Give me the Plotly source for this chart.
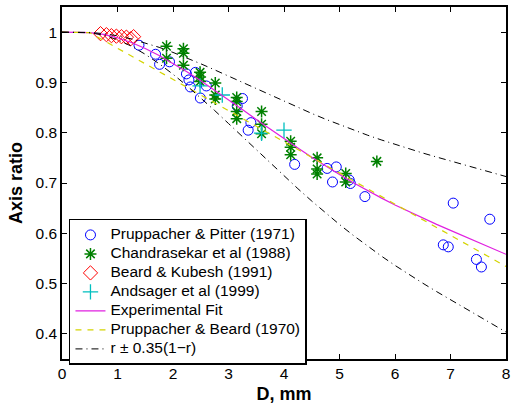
import plotly.graph_objects as go

# ---- data ----
pp_D = [1.387, 1.686, 1.758, 1.937, 2.242, 2.404, 2.287, 2.314, 2.601, 2.493,
        3.252, 3.157, 3.403, 3.354, 4.192, 4.777, 4.942, 4.874, 5.175, 5.196,
        5.458, 7.049, 7.708, 6.870, 6.960, 7.467, 7.557]
pp_r = [0.974, 0.956, 0.936, 0.941, 0.917, 0.920, 0.905, 0.891, 0.893, 0.869,
        0.868, 0.853, 0.820, 0.805, 0.737, 0.729, 0.732, 0.702, 0.706, 0.699,
        0.673, 0.660, 0.628, 0.577, 0.573, 0.548, 0.533]

ch_D = [1.883, 1.883, 2.188, 2.188, 2.188, 2.488, 2.488, 2.488, 2.762, 2.762, 2.762,
        3.148, 3.148, 3.148, 3.148, 3.596, 3.596, 3.596, 4.120, 4.120, 4.120,
        4.597, 4.597, 4.597, 5.112, 5.112, 5.673]
ch_r = [0.972, 0.948, 0.967, 0.958, 0.934, 0.920, 0.911, 0.902, 0.899, 0.875, 0.867,
        0.870, 0.862, 0.842, 0.828, 0.842, 0.817, 0.798, 0.783, 0.771, 0.756,
        0.750, 0.728, 0.718, 0.719, 0.702, 0.743]

bk_D = [0.694, 0.80, 0.89, 0.98, 1.07, 1.16, 1.24, 1.29]
bk_r = [0.997, 0.995, 0.993, 0.992, 0.991, 0.990, 0.987, 0.991]

an_D = [2.488, 2.888, 3.596, 4.000]
an_r = [0.893, 0.875, 0.799, 0.805]

fit_D = [0, 0.25, 0.5, 0.75, 1, 1.25, 1.5, 1.75, 2, 2.25, 2.5, 2.75, 3, 3.25, 3.5, 3.75,
         4, 4.25, 4.5, 4.75, 5, 5.25, 5.5, 5.75, 6, 6.25, 6.5, 6.75, 7, 7.25, 7.5, 7.75, 8]
fit_r = [1.0, 1.0, 0.999, 0.9956, 0.9888, 0.9793, 0.9674, 0.9535, 0.9380, 0.9211, 0.9032,
         0.8846, 0.8654, 0.8460, 0.8265, 0.8072, 0.7881, 0.7694, 0.7512, 0.7336, 0.7167,
         0.7005, 0.6851, 0.6704, 0.6564, 0.6430, 0.6302, 0.6178, 0.6058, 0.5941, 0.5823,
         0.5704, 0.5582]
upper_r = [1.0, 1.0, 0.9994, 0.9971, 0.9927, 0.9865, 0.9788, 0.9698, 0.9597, 0.9487, 0.9371,
           0.9250, 0.9125, 0.8999, 0.8872, 0.8747, 0.8623, 0.8501, 0.8383, 0.8268, 0.8159,
           0.8053, 0.7953, 0.7858, 0.7767, 0.7680, 0.7596, 0.7516, 0.7438, 0.7362, 0.7285,
           0.7208, 0.7128]
lower_r = [1.0, 1.0, 0.9987, 0.9941, 0.9849, 0.9721, 0.9560, 0.9372, 0.9163, 0.8935, 0.8693,
           0.8442, 0.8183, 0.7921, 0.7658, 0.7397, 0.7139, 0.6887, 0.6641, 0.6404, 0.6175,
           0.5957, 0.5749, 0.5550, 0.5361, 0.5181, 0.5008, 0.4840, 0.4678, 0.4520, 0.4361,
           0.4200, 0.4036]

pb_D = [0, 0.5, 8]
pb_r = [1.0, 0.999, 0.534]

x_ticks = [0, 1, 2, 3, 4, 5, 6, 7, 8]
y_ticks = [0.4, 0.5, 0.6, 0.7, 0.8, 0.9, 1.0]
y_labels = ["0.4", "0.5", "0.6", "0.7", "0.8", "0.9", "1"]

names = ["Pruppacher & Pitter (1971)", "Chandrasekar et al (1988)", "Beard & Kubesh (1991)",
         "Andsager et al (1999)", "Experimental Fit", "Pruppacher & Beard (1970)",
         "r \u00b1 0.35(1\u2212r)"]

FONT = "Liberation Sans, Arial, Helvetica, sans-serif"
DASHDOT = "7px,4px,1px,4px"


def lab(s):
    return '<span style="font-size:15.5px">' + s + '</span>'


fig = go.Figure()

fig.add_trace(go.Scatter(x=pp_D, y=pp_r, mode="markers", name=lab(names[0]),
                         marker=dict(symbol="circle-open", size=10, color="#0000FF",
                                     line=dict(width=1, color="#0000FF"))))
fig.add_trace(go.Scatter(x=ch_D, y=ch_r, mode="markers", name=lab(names[1]),
                         marker=dict(symbol="asterisk-open", size=10, color="#008000",
                                     line=dict(width=1.5, color="#008000"))))
fig.add_trace(go.Scatter(x=bk_D, y=bk_r, mode="markers", name=lab(names[2]),
                         marker=dict(symbol="diamond-open", size=11, color="#FF0000",
                                     line=dict(width=1, color="#FF0000"))))
fig.add_trace(go.Scatter(x=an_D, y=an_r, mode="markers", name=lab(names[3]),
                         marker=dict(symbol="cross-thin-open", size=11, color="#00BFBF",
                                     line=dict(width=1.3, color="#00BFBF"))))
fig.add_trace(go.Scatter(x=fit_D, y=fit_r, mode="lines", name=lab(names[4]),
                         line=dict(color="#E020E0", width=1.2)))
fig.add_trace(go.Scatter(x=pb_D, y=pb_r, mode="lines", name=lab(names[5]),
                         line=dict(color="#D4D400", width=1.2, dash="6px,6px")))
fig.add_trace(go.Scatter(x=fit_D, y=upper_r, mode="lines", name=lab(names[6]),
                         legendgroup="bounds",
                         line=dict(color="#000000", width=1, dash=DASHDOT)))
fig.add_trace(go.Scatter(x=fit_D, y=lower_r, mode="lines", name=lab(names[6]),
                         legendgroup="bounds", showlegend=False,
                         line=dict(color="#000000", width=1, dash=DASHDOT)))

axis_common = dict(showgrid=False, zeroline=False, showline=True, linecolor="black",
                   linewidth=1.5, mirror="ticks", ticks="inside", ticklen=5,
                   tickcolor="black", tickwidth=1,
                   tickfont=dict(family=FONT, size=15.5, color="black"))

fig.update_layout(
    width=515, height=406,
    margin=dict(l=62, r=7, t=5, b=45),
    paper_bgcolor="white", plot_bgcolor="white",
    font=dict(family=FONT, size=14, color="black"),
    showlegend=True,
    legend=dict(x=0.0157, y=0.398, xanchor="left", yanchor="top",
                bgcolor="white", bordercolor="black", borderwidth=1.5,
                font=dict(family=FONT, size=10.9, color="black"),
                tracegroupgap=0, itemwidth=30),
    xaxis=dict(range=[0, 8], tickvals=x_ticks,
               title=dict(text="<b>D, mm</b>", font=dict(family=FONT, size=18), standoff=6),
               **axis_common),
    yaxis=dict(range=[0.35, 1.05], tickvals=y_ticks, ticktext=y_labels,
               title=dict(text="<b>Axis ratio</b>", font=dict(family=FONT, size=18), standoff=8),
               **axis_common),
)

fig.write_html("out.html")
